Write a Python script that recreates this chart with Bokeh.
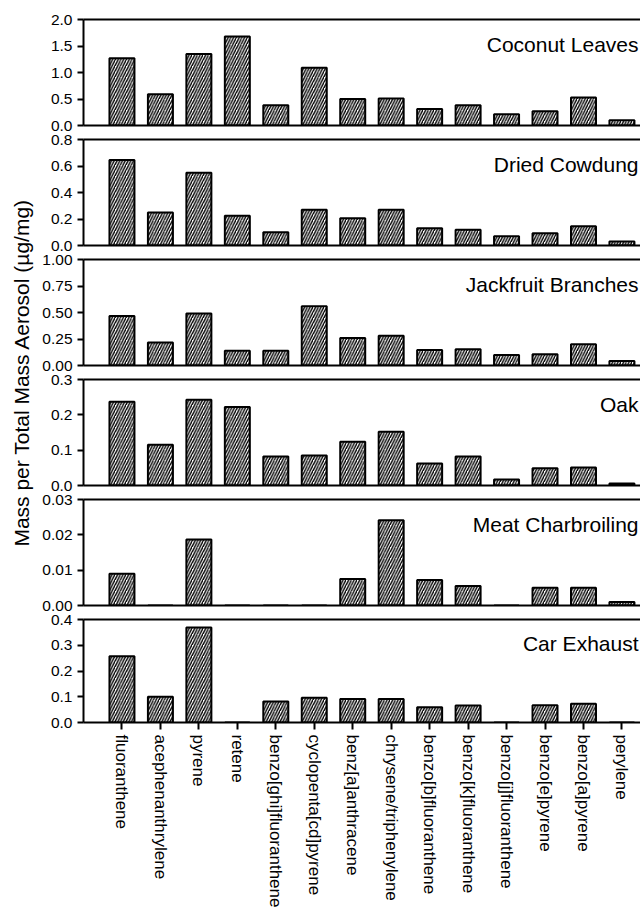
import math
from bokeh.plotting import figure
from bokeh.layouts import row, column
from bokeh.models import (Range1d, FixedTicker, PrintfTickFormatter, LinearAxis,
                          Label, ColumnDataSource)
from bokeh.embed import file_html
from bokeh.resources import INLINE

# ---------------- data ----------------
categories = ["fluoranthene", "acephenanthrylene", "pyrene", "retene",
              "benzo[ghi]fluoranthene", "cyclopenta[cd]pyrene", "benz[a]anthracene",
              "chrysene/triphenylene", "benzo[b]fluoranthene", "benzo[k]fluoranthene",
              "benzo[j]fluoranthene", "benzo[e]pyrene", "benzo[a]pyrene", "perylene"]

panel_titles = ["Coconut Leaves", "Dried Cowdung", "Jackfruit Branches", "Oak",
                "Meat Charbroiling", "Car Exhaust"]

coconut_leaves = [1.27, 0.59, 1.35, 1.68, 0.38, 1.09, 0.50, 0.51, 0.31, 0.38, 0.21, 0.27, 0.53, 0.10]
dried_cowdung = [0.645, 0.25, 0.55, 0.225, 0.10, 0.27, 0.205, 0.27, 0.13, 0.118, 0.07, 0.093, 0.145, 0.03]
jackfruit_branches = [0.467, 0.216, 0.49, 0.14, 0.14, 0.56, 0.26, 0.28, 0.147, 0.153, 0.10, 0.106, 0.20, 0.043]
oak = [0.237, 0.115, 0.243, 0.222, 0.082, 0.085, 0.124, 0.152, 0.0625, 0.082, 0.017, 0.0485, 0.051, 0.006]
meat_charbroiling = [0.009, 0.0, 0.0187, 0.0, 0.0, 0.0, 0.0075, 0.0241, 0.0072, 0.0055, 0.0, 0.005, 0.005, 0.001]
car_exhaust = [0.257, 0.10, 0.369, 0.0, 0.082, 0.096, 0.091, 0.091, 0.059, 0.066, 0.0, 0.067, 0.073, 0.0]

series = [coconut_leaves, dried_cowdung, jackfruit_branches, oak, meat_charbroiling, car_exhaust]

y_tops = [2.0, 0.8, 1.0, 0.3, 0.03, 0.4]
y_steps = [0.5, 0.2, 0.25, 0.1, 0.01, 0.1]
y_formats = ["%.1f", "%.1f", "%.2f", "%.1f", "%.2f", "%.1f"]

y_label = "Mass per Total Mass Aerosol (µg/mg)"

# ---------------- layout ----------------
FONT = "Liberation Sans"
LBL_W = 38
PANEL_W = 640 - LBL_W
FRAME_H = 106
BORDER_LEFT = 45
FIRST_TOP = 19
GAP_TOP = 7
GAP_BOT = 7
X_LABEL_SPACE = 185
UNIT_PX = 38.46

xs = [i + 1 for i in range(len(categories))]
x_end = (PANEL_W - BORDER_LEFT) / UNIT_PX

panels = []
n = len(series)
for k in range(n):
    top_b = FIRST_TOP if k == 0 else GAP_TOP
    bot_b = X_LABEL_SPACE if k == n - 1 else GAP_BOT
    h = top_b + FRAME_H + bot_b
    p = figure(width=PANEL_W, height=h, x_range=Range1d(0, x_end),
               y_range=Range1d(0, y_tops[k]), toolbar_location=None,
               output_backend="svg", min_border_left=BORDER_LEFT, min_border_right=0,
               min_border_top=top_b, min_border_bottom=bot_b,
               outline_line_color=None, background_fill_color="white",
               border_fill_color="white")
    p.grid.visible = False

    src = ColumnDataSource(dict(x=xs, top=series[k], name=categories))
    p.vbar(x="x", top="top", bottom=0, width=0.65, source=src,
           fill_color="white", line_color="black", line_width=2,
           hatch_pattern="/", hatch_color="black", hatch_scale=5.5, hatch_weight=1.4)

    # y axis
    nt = int(round(y_tops[k] / y_steps[k]))
    yt = [round(i * y_steps[k], 4) for i in range(nt + 1)]
    ya = p.yaxis[0]
    ya.ticker = FixedTicker(ticks=yt)
    ya.formatter = PrintfTickFormatter(format=y_formats[k])
    ya.major_tick_out = 6
    ya.major_tick_in = 0
    ya.minor_tick_out = 0
    ya.minor_tick_in = 0
    ya.axis_line_width = 2
    ya.major_tick_line_width = 2
    ya.major_label_standoff = 5
    ya.major_label_text_font = FONT
    ya.major_label_text_font_size = "15.5px"
    ya.major_label_text_color = "black"

    # x axis
    xa = p.xaxis[0]
    xa.axis_line_width = 2
    xa.minor_tick_out = 0
    xa.minor_tick_in = 0
    if k == n - 1:
        xa.ticker = FixedTicker(ticks=xs)
        xa.major_label_overrides = {x: c for x, c in zip(xs, categories)}
        xa.major_tick_out = 7
        xa.major_tick_in = 0
        xa.major_tick_line_width = 2
        xa.major_label_orientation = "vertical"
        xa.major_label_standoff = 5
        xa.major_label_text_font = FONT
        xa.major_label_text_font_size = "17px"
        xa.major_label_text_color = "black"
    else:
        xa.ticker = FixedTicker(ticks=[])
        xa.major_tick_out = 0
        xa.major_tick_in = 0
        xa.major_label_text_font_size = "0px"
        xa.major_label_standoff = 0

    # top frame line
    top_axis = LinearAxis(ticker=FixedTicker(ticks=[]), major_tick_out=0, major_tick_in=0,
                          minor_tick_out=0, minor_tick_in=0, major_label_text_font_size="0px",
                          major_label_standoff=0, axis_line_width=2)
    p.add_layout(top_axis, "above")

    p.add_layout(Label(x=x_end - 2.0 / UNIT_PX, y=y_tops[k] * 0.764, text=panel_titles[k],
                       text_align="right", text_baseline="alphabetic",
                       text_font=FONT, text_font_size="21px", text_color="black"))
    panels.append(p)

total_h = sum(pp.height for pp in panels)
frame_top = FIRST_TOP
frame_bottom = sum(pp.height for pp in panels[:-1]) + GAP_TOP + FRAME_H
center_from_top = (frame_top + frame_bottom) / 2.0

lbl = figure(width=LBL_W, height=total_h, x_range=Range1d(0, LBL_W),
             y_range=Range1d(0, total_h), x_axis_type=None, y_axis_type=None,
             toolbar_location=None, output_backend="svg", min_border=0,
             outline_line_color=None)
lbl.grid.visible = False
lbl.add_layout(Label(x=21, y=total_h - center_from_top, text=y_label, angle=math.pi / 2,
                     text_align="center", text_baseline="middle", text_font=FONT,
                     text_font_size="21px", text_color="black"))

layout = row(lbl, column(*panels, spacing=0), spacing=0)

open("out.html", "w").write(file_html(layout, INLINE))
